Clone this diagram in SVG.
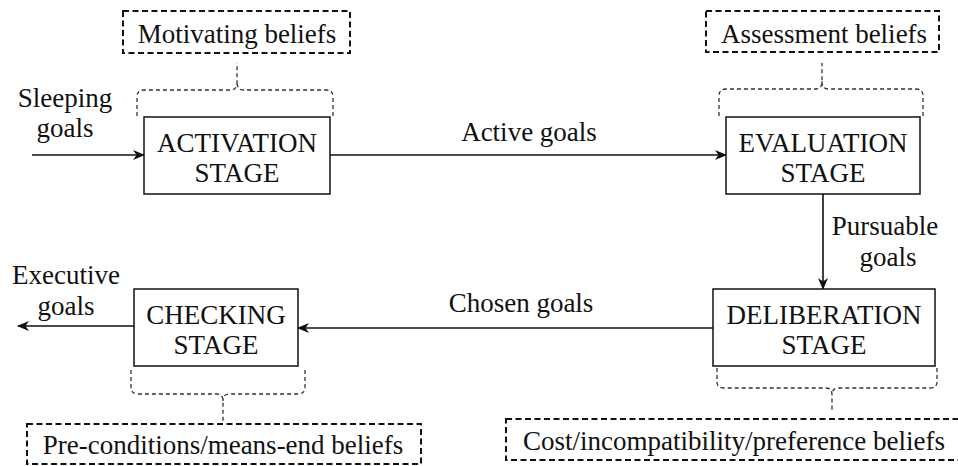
<svg xmlns="http://www.w3.org/2000/svg" width="958" height="466" viewBox="0 0 958 466">
<style>
text{font-family:"Liberation Serif","Times New Roman",serif;font-size:27px;fill:#111;text-anchor:middle}
.box{fill:#fff;stroke:#111;stroke-width:1.5}
.bel{fill:none;stroke:#111;stroke-width:2;stroke-dasharray:6,3.5}
.brace{fill:none;stroke:#333;stroke-width:1.3;stroke-dasharray:4,3}
.arr{fill:none;stroke:#111;stroke-width:1.6;marker-end:url(#ah)}
</style>
<defs>
<marker id="ah" viewBox="0 0 12 10" refX="11" refY="5" markerWidth="12" markerHeight="10" markerUnits="userSpaceOnUse" orient="auto">
<path d="M0,0 L12,5 L0,10 L3.5,5 z" fill="#111"/>
</marker>
</defs>
<g id="connectors">
<line class="arr" x1="32" y1="155" x2="144" y2="155"/>
<line class="arr" x1="330" y1="155" x2="726" y2="155"/>
<line class="arr" x1="823" y1="194" x2="823" y2="289"/>
<line class="arr" x1="713" y1="328" x2="298" y2="328"/>
<line class="arr" x1="134" y1="326" x2="18" y2="326"/>
<text x="65" y="107">Sleeping</text>
<text x="65" y="137">goals</text>
<text x="529" y="141">Active goals</text>
<text x="885" y="235">Pursuable</text>
<text x="888" y="266">goals</text>
<text x="521" y="312">Chosen goals</text>
<text x="66" y="284">Executive</text>
<text x="66" y="315">goals</text>
</g>
<g id="activation">
<rect class="box" x="144" y="117" width="186" height="77"/>
<text x="237" y="152">ACTIVATION</text>
<text x="237" y="182">STAGE</text>
</g>
<g id="evaluation">
<rect class="box" x="726" y="117" width="194" height="77"/>
<text x="823" y="152">EVALUATION</text>
<text x="823" y="182">STAGE</text>
</g>
<g id="deliberation">
<rect class="box" x="713" y="289" width="222" height="77"/>
<text x="824" y="324">DELIBERATION</text>
<text x="824" y="354">STAGE</text>
</g>
<g id="checking">
<rect class="box" x="134" y="289" width="164" height="77"/>
<text x="216" y="324">CHECKING</text>
<text x="216" y="354">STAGE</text>
</g>
<g id="motivating-beliefs">
<rect class="bel" x="123" y="11" width="227" height="42"/>
<text x="237" y="43">Motivating beliefs</text>
<path class="brace" d="M137,116 V97 Q137,90 144,90 H231 Q237,90 237,82 V63 M333,116 V97 Q333,90 326,90 H243 Q237,90 237,82"/>
</g>
<g id="assessment-beliefs">
<rect class="bel" x="706" y="11" width="233" height="41"/>
<text x="824" y="43">Assessment beliefs</text>
<path class="brace" d="M719,116 V96 Q719,89 726,89 H816 Q822,89 822,81 V63 M923,116 V96 Q923,89 916,89 H828 Q822,89 822,81"/>
</g>
<g id="cost-beliefs">
<rect class="bel" x="506" y="419" width="460" height="41"/>
<text x="734" y="450">Cost/incompatibility/preference beliefs</text>
<path class="brace" d="M717,368 V382 Q717,388 724,388 H826 Q832,388 832,395 V412 M937,368 V382 Q937,388 930,388 H838 Q832,388 832,395"/>
</g>
<g id="precondition-beliefs">
<rect class="bel" x="27" y="424" width="394" height="40"/>
<text x="223" y="454">Pre-conditions/means-end beliefs</text>
<path class="brace" d="M131,370 V387 Q131,394 138,394 H217 Q223,394 223,401 V422 M305,370 V387 Q305,394 298,394 H229 Q223,394 223,401"/>
</g>
</svg>
